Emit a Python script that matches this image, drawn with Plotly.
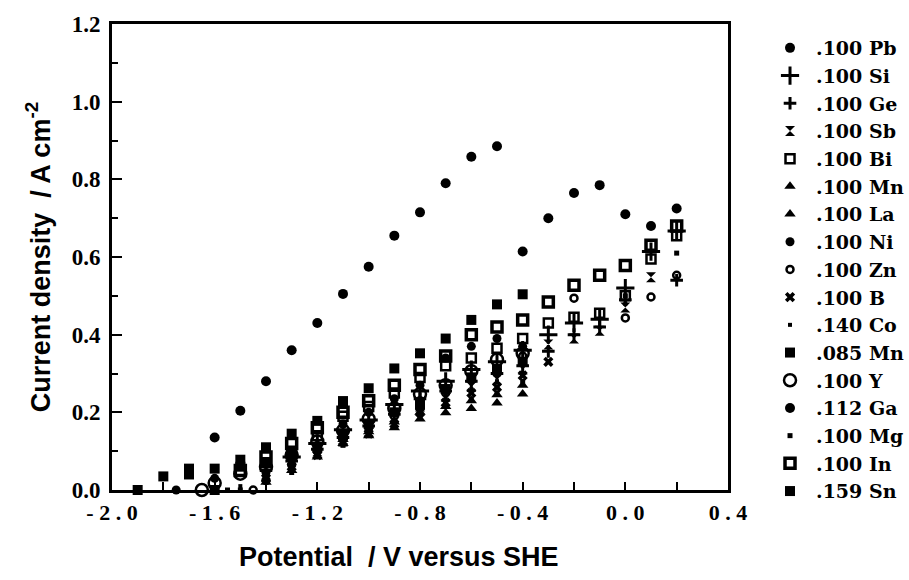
import plotly.graph_objects as go

# ---------------- data ----------------
pb_x = [-1.6, -1.5, -1.4, -1.3, -1.2, -1.1, -1.0, -0.9, -0.8, -0.7, -0.6, -0.5]
pb_y = [0.135, 0.204, 0.28, 0.36, 0.43, 0.505, 0.575, 0.655, 0.715, 0.79, 0.858, 0.885]

si_x = [-1.3, -1.2, -1.1, -1.0, -0.9, -0.8, -0.7, -0.6, -0.5, -0.4, -0.3, -0.2, -0.1, 0.0, 0.1, 0.2]
si_y = [0.085, 0.12, 0.155, 0.18, 0.22, 0.255, 0.28, 0.31, 0.33, 0.36, 0.40, 0.43, 0.44, 0.52, 0.614, 0.667]

ge_x = [-1.4, -1.3, -1.2, -1.1, -1.0, -0.9, -0.8, -0.7, -0.6, -0.5, -0.4, -0.3, -0.2, -0.1, 0.0, 0.2]
ge_y = [0.05, 0.075, 0.105, 0.135, 0.165, 0.195, 0.235, 0.255, 0.28, 0.30, 0.32, 0.357, 0.40, 0.42, 0.49, 0.54]

sb_x = [-1.2, -1.1, -1.0, -0.9, -0.8, -0.7, -0.6, -0.5, -0.4, -0.3, -0.2, -0.1, 0.0, 0.1]
sb_y = [0.10, 0.125, 0.15, 0.185, 0.215, 0.24, 0.265, 0.285, 0.31, 0.375, 0.39, 0.41, 0.47, 0.548]

bi_x = [-1.4, -1.3, -1.2, -1.1, -1.0, -0.9, -0.8, -0.7, -0.6, -0.5, -0.4, -0.3, -0.2, -0.1, 0.0, 0.1, 0.2]
bi_y = [0.07, 0.10, 0.14, 0.19, 0.215, 0.25, 0.29, 0.32, 0.34, 0.365, 0.39, 0.43, 0.445, 0.455, 0.50, 0.595, 0.655]

mn_x = [-1.1, -1.0, -0.9, -0.8, -0.7, -0.6, -0.5, -0.4]
mn_y = [0.12, 0.14, 0.16, 0.183, 0.199, 0.21, 0.224, 0.247]

la_x = [-1.4, -1.3, -1.2, -1.1, -1.0, -0.9, -0.8, -0.7, -0.6, -0.5, -0.4]
la_y = [0.02, 0.05, 0.085, 0.13, 0.15, 0.175, 0.20, 0.215, 0.23, 0.245, 0.27]

ni_x = [-1.75, -1.6, -1.4, -1.3, -1.2, -1.1, -1.0, -0.9, -0.8, -0.7, -0.6, -0.5, -0.4]
ni_y = [0.0, 0.03, 0.045, 0.08, 0.115, 0.17, 0.20, 0.235, 0.27, 0.34, 0.37, 0.39, 0.37]

zn_x = [-1.45, -1.4, -1.3, -1.2, -1.1, -1.0, -0.9, -0.8, -0.7, -0.6, -0.5, -0.4, -0.2, 0.0, 0.1, 0.2]
zn_y = [0.0, 0.025, 0.065, 0.10, 0.14, 0.16, 0.19, 0.23, 0.25, 0.285, 0.30, 0.345, 0.494, 0.443, 0.497, 0.553]

b_x = [-1.4, -1.3, -1.2, -1.1, -1.0, -0.9, -0.8, -0.7, -0.6, -0.5, -0.4, -0.3]
b_y = [0.03, 0.06, 0.09, 0.125, 0.145, 0.17, 0.20, 0.225, 0.25, 0.265, 0.295, 0.33]

co_x = [-1.55, -1.5, -1.4, -1.3, -1.2, -1.1, -1.0, -0.9, -0.8, -0.7, -0.6, -0.5, -0.4, 0.0]
co_y = [0.0, 0.01, 0.035, 0.07, 0.10, 0.13, 0.16, 0.18, 0.21, 0.24, 0.26, 0.28, 0.30, 0.48]

mn085_x = [-1.8, -1.7, -1.6, -1.5, -1.4, -1.3, -1.2, -1.1, -1.0, -0.9, -0.8, -0.7, -0.6, -0.5, -0.4]
mn085_y = [0.035, 0.055, 0.055, 0.078, 0.11, 0.145, 0.178, 0.229, 0.262, 0.313, 0.352, 0.39, 0.438, 0.478, 0.504]

y_x = [-1.65, -1.6, -1.5, -1.4, -1.3, -1.2, -1.1, -1.0, -0.9, -0.8, -0.7, -0.6, -0.5, -0.4]
y_y = [0.0, 0.018, 0.042, 0.06, 0.09, 0.125, 0.153, 0.183, 0.21, 0.247, 0.27, 0.306, 0.336, 0.352]

ga_x = [-0.4, -0.3, -0.2, -0.1, 0.0, 0.1, 0.2]
ga_y = [0.614, 0.70, 0.765, 0.785, 0.71, 0.68, 0.725]

mg_x = [-1.55, -1.5, -1.4, -1.3, -1.2, -1.1, -1.0, -0.9, -0.8, -0.7, -0.6, -0.5, -0.4, 0.0, 0.2]
mg_y = [0.0, 0.0, 0.02, 0.045, 0.09, 0.115, 0.14, 0.17, 0.19, 0.215, 0.235, 0.25, 0.28, 0.50, 0.61]

in_x = [-1.5, -1.4, -1.3, -1.2, -1.1, -1.0, -0.9, -0.8, -0.7, -0.6, -0.5, -0.4, -0.3, -0.2, -0.1, 0.0, 0.1, 0.2]
in_y = [0.05, 0.085, 0.12, 0.16, 0.20, 0.23, 0.27, 0.31, 0.345, 0.40, 0.42, 0.438, 0.484, 0.527, 0.553, 0.578, 0.63, 0.68]

sn_x = [-1.9, -1.7, -1.6, -1.5, -1.4, -1.3, -1.2, -1.1, -1.0, -0.9, -0.8, -0.7, -0.6, -0.5, -0.4]
sn_y = [0.0, 0.04, 0.0, 0.06, 0.07, 0.10, 0.11, 0.14, 0.17, 0.20, 0.22, 0.26, 0.29, 0.31, 0.33]

x_tickvals = [-2.0, -1.6, -1.2, -0.8, -0.4, 0.0, 0.4]
x_ticktext = ["- 2 . 0", "- 1 . 6", "- 1 . 2", "- 0 . 8", "- 0 . 4", "0 . 0", "0 . 4"]
y_tickvals = [0.0, 0.2, 0.4, 0.6, 0.8, 1.0, 1.2]
y_ticktext = ["0.0", "0.2", "0.4", "0.6", "0.8", "1.0", "1.2"]

# ---------------- styles ----------------
K = "black"
series = [
    (".100 Pb", pb_x, pb_y, dict(symbol="circle", size=10, color=K)),
    (".100 Si", si_x, si_y, dict(symbol="cross-thin", size=13, color=K, line=dict(width=3, color=K))),
    (".100 Ge", ge_x, ge_y, dict(symbol="cross-thin", size=9, color=K, line=dict(width=3, color=K))),
    (".100 Sb", sb_x, sb_y, dict(symbol="hourglass", size=10, color=K)),
    (".100 Bi", bi_x, bi_y, dict(symbol="square-open", size=9, color=K, line=dict(width=2.5, color=K))),
    (".100 Mn", mn_x, mn_y, dict(symbol="triangle-up", size=10, color=K)),
    (".100 La", la_x, la_y, dict(symbol="triangle-up", size=10, color=K)),
    (".100 Ni", ni_x, ni_y, dict(symbol="circle", size=9, color=K)),
    (".100 Zn", zn_x, zn_y, dict(symbol="circle-open", size=7, color=K, line=dict(width=2.5, color=K))),
    (".100 B", b_x, b_y, dict(symbol="x", size=9, color=K)),
    (".140 Co", co_x, co_y, dict(symbol="square", size=4, color=K)),
    (".085 Mn", mn085_x, mn085_y, dict(symbol="square", size=10, color=K)),
    (".100 Y", y_x, y_y, dict(symbol="circle-open", size=12, color=K, line=dict(width=2.5, color=K))),
    (".112 Ga", ga_x, ga_y, dict(symbol="circle", size=10, color=K)),
    (".100 Mg", mg_x, mg_y, dict(symbol="square", size=5, color=K)),
    (".100 In", in_x, in_y, dict(symbol="square-open", size=10, color=K, line=dict(width=3.5, color=K))),
    (".159 Sn", sn_x, sn_y, dict(symbol="square", size=10, color=K)),
]

fig = go.Figure()
for name, xs, ys, mk in series:
    fig.add_trace(go.Scatter(x=xs, y=ys, mode="markers", name=name, marker=mk, cliponaxis=False))

serif_b = dict(family="Liberation Serif", size=23, color=K, weight="bold")
sans_b = dict(family="Liberation Sans", size=27, color=K, weight="bold")

fig.update_layout(
    width=909, height=580,
    margin=dict(l=112, r=181, t=19, b=90),
    paper_bgcolor="white", plot_bgcolor="white",
    showlegend=True,
    legend=dict(
        xref="container", yref="container",
        x=0.8405, xanchor="left", y=0.95, yanchor="top",
        font=dict(family="DejaVu Serif", size=19, color=K, weight="bold"),
        bgcolor="rgba(0,0,0,0)", borderwidth=0,
        tracegroupgap=0, itemsizing="trace", itemwidth=42,
        maxheight=575,
    ),
    xaxis=dict(
        range=[-2.0, 0.4], showgrid=False, zeroline=False,
        showline=True, linewidth=3, linecolor=K, mirror=True,
        ticks="inside", ticklen=8, tickwidth=2, tickcolor=K,
        tickvals=x_tickvals, ticktext=x_ticktext,
        tickfont=dict(family="Liberation Serif", size=22, color=K, weight="bold"),
        ticklabelstandoff=1,
        minor=dict(tick0=-2.0, dtick=0.2, ticks="inside", ticklen=8, tickwidth=2, tickcolor=K),
    ),
    yaxis=dict(
        range=[0, 1.2], showgrid=False, zeroline=False,
        showline=True, linewidth=3, linecolor=K, mirror=True,
        ticks="inside", ticklen=10, tickwidth=2, tickcolor=K,
        tickvals=y_tickvals, ticktext=y_ticktext, tickfont=serif_b,
        ticklabelstandoff=4,
        minor=dict(tick0=0.0, dtick=0.1, ticks="inside", ticklen=6, tickwidth=2, tickcolor=K),
        title=dict(text="Current density  / A cm<sup>-2</sup>", font=sans_b, standoff=14),
    ),
    annotations=[
        dict(text="Potential  / V versus SHE", xref="paper", yref="paper",
             x=0.466, y=-0.143, xanchor="center", yanchor="middle",
             showarrow=False, font=sans_b),
    ],
)

fig.write_html("out.html")
